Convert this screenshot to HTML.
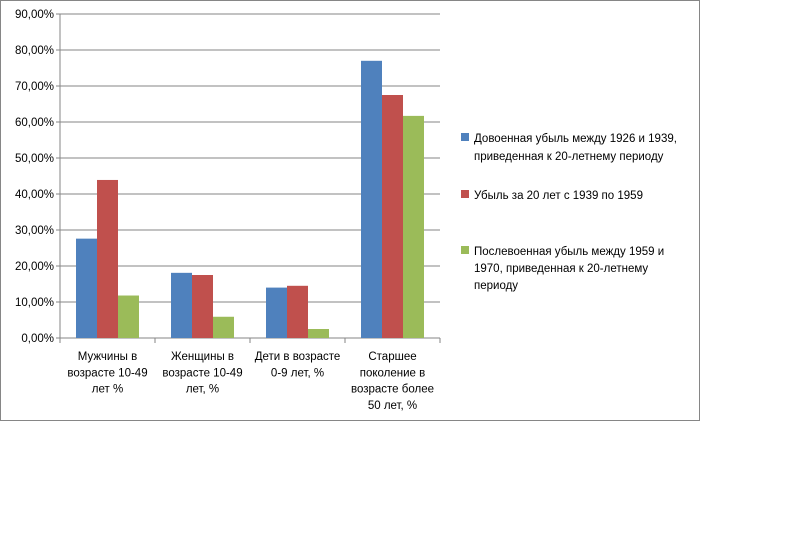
<!DOCTYPE html>
<html><head><meta charset="utf-8"><style>
body{margin:0;background:#fff;width:808px;height:540px;overflow:hidden;font-family:"Liberation Sans",sans-serif}
</style></head><body>
<svg width="808" height="540">
<rect x="0.5" y="0.5" width="699" height="420" fill="#fff" stroke="#868686"/>
<g id="grid"></g><g id="bars"></g><g id="labels"></g>
<g font-size="11.5" fill="#000">
<rect x="461" y="133" width="8" height="8" fill="#4f81bd"/>
<text x="474" y="142"><tspan x="474">Довоенная  убыль между 1926 и 1939,</tspan><tspan x="474" dy="18">приведенная  к 20-летнему периоду</tspan></text>
<rect x="461" y="190" width="8" height="8" fill="#c0504d"/>
<text x="474" y="199">Убыль за 20 лет с 1939 по 1959</text>
<rect x="461" y="246" width="8" height="8" fill="#9bbb59"/>
<text x="474" y="255"><tspan x="474">Послевоенная  убыль между 1959 и</tspan><tspan x="474" dy="17">1970, приведенная  к 20-летнему</tspan><tspan x="474" dy="17">периоду</tspan></text>
</g>
</svg>
<script>
const categories=[["Мужчины в","возрасте 10-49","лет %"],["Женщины  в","возрасте 10-49","лет, %"],["Дети  в возрасте","0-9 лет, %"],["Старшее","поколение  в","возрасте более","50 лет, %"]];
const prewar=[27.6,18.1,14.0,77.0];
const war=[43.9,17.5,14.5,67.5];
const postwar=[11.8,5.9,2.5,61.7];
const ticks=[0,10,20,30,40,50,60,70,80,90];
const tickLabels=["0,00%","10,00%","20,00%","30,00%","40,00%","50,00%","60,00%","70,00%","80,00%","90,00%"];
const NS="http://www.w3.org/2000/svg";
const X0=60,X1=440,Y0=338,Y1=14,MAX=90;
const y=v=>Y0-(v/MAX)*(Y0-Y1);
const cw=(X1-X0)/categories.length;
function mk(t,a,p){const e=document.createElementNS(NS,t);for(const k in a)e.setAttribute(k,a[k]);p.appendChild(e);return e;}
const grid=document.getElementById('grid'),bars=document.getElementById('bars'),lab=document.getElementById('labels');
ticks.forEach((t,i)=>{
 if(t>0){const l=mk('line',{x1:X0,x2:X1,y1:y(t),y2:y(t),stroke:'#868686'},grid);
 
 }
 const tx=mk('text',{x:X0-6,y:y(t)+4,'text-anchor':'end','font-size':'11.5'},lab);tx.textContent=tickLabels[i];
 
 
 const tk=mk('line',{x1:X0-4,x2:X0,y1:y(t),y2:y(t),stroke:'#868686'},grid);
 
 
});
const ax=mk('line',{x1:X0,x2:X0,y1:Y1,y2:Y0,stroke:'#868686'},grid);


const xa=mk('line',{x1:X0,x2:X1,y1:Y0,y2:Y0,stroke:'#868686'},grid);


for(let i=0;i<=categories.length;i++){const k=mk('line',{x1:X0+i*cw,x2:X0+i*cw,y1:Y0,y2:Y0+5,stroke:'#868686'},grid);
 
 }
const series=[[prewar,'#4f81bd','prewar'],[war,'#c0504d','war'],[postwar,'#9bbb59','postwar']];
const bw=21;
categories.forEach((c,i)=>{
 const start=X0+i*cw+(cw-bw*3)/2;
 series.forEach(([d,col,n],j)=>{
  const r=mk('rect',{x:start+j*bw,y:y(d[i]),width:bw,height:Y0-y(d[i]),fill:col},bars);
  
  
 });
 const t=mk('text',{'text-anchor':'middle','font-size':'11.5'},lab);
 
 
 c.forEach((ln,k)=>{const s=mk('tspan',{x:X0+i*cw+cw/2,y:360+k*16.3},t);s.textContent=ln;});
});
</script>
</body></html>
